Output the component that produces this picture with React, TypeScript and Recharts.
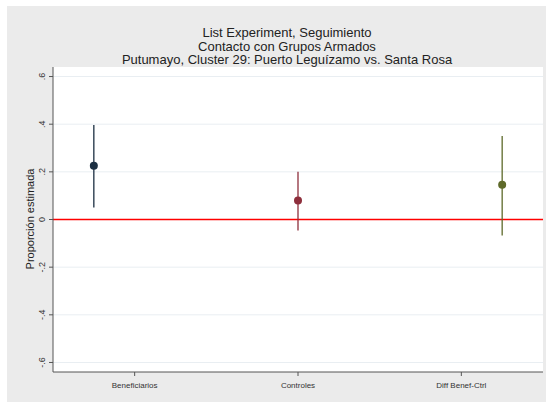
import React from 'react';
import {
  ComposedChart,
  Scatter,
  ErrorBar,
  XAxis,
  YAxis,
  CartesianGrid,
  ReferenceLine,
} from 'recharts';

const categories = ['Beneficiarios', 'Controles', 'Diff Benef-Ctrl'];
const positions = [1, 2, 3];
const tickPositions = [1.2, 2, 2.8];
const estimates = [0.226, 0.08, 0.146];
const lower = [0.05, -0.046, -0.067];
const upper = [0.397, 0.2, 0.35];
const yTicks = [-0.6, -0.4, -0.2, 0, 0.2, 0.4, 0.6];
const colors = ['#1c2f42', '#8e2f3c', '#5e6a2a'];

const fmtY = (v: number) => {
  if (v === 0) return '0';
  const s = Math.abs(v).toFixed(1).replace(/^0/, '');
  return v < 0 ? '-' + s : s;
};

const YTick = ({ x, y, payload }: any) => (
  <text
    x={x - 2}
    y={y}
    transform={`rotate(-90, ${x - 2}, ${y})`}
    textAnchor="middle"
    fontSize={9}
    fill="#333"
    fontFamily="Liberation Sans, Arial, sans-serif"
  >
    {fmtY(payload.value)}
  </text>
);

const XTick = ({ x, y, payload }: any) => {
  const i = tickPositions.indexOf(payload.value);
  return (
    <text
      x={x}
      y={y + 10}
      textAnchor="middle"
      fontSize={8}
      fill="#333"
      fontFamily="Liberation Sans, Arial, sans-serif"
    >
      {categories[i]}
    </text>
  );
};

const Dot = (color: string) => (props: any) => (
  <circle cx={props.cx} cy={props.cy} r={4} fill={color} />
);

export default function App() {
  const series = categories.map((c, i) => ({
    name: c,
    data: [
      {
        x: positions[i],
        y: estimates[i],
        err: [estimates[i] - lower[i], upper[i] - estimates[i]],
      },
    ],
  }));

  return (
    <div
      style={{
        position: 'absolute',
        left: 0,
        top: 0,
        width: 546,
        height: 402,
        background: '#ffffff',
        fontFamily: 'Liberation Sans, Arial, sans-serif',
      }}
    >
      {/* gray graph region, with a thin white margin top/left */}
      <div
        style={{
          position: 'absolute',
          left: 7,
          top: 6,
          right: 0,
          bottom: 0,
          background: '#ebebeb',
        }}
      />
      <div
        style={{
          position: 'absolute',
          left: 0,
          top: 26,
          width: 574,
          textAlign: 'center',
          fontSize: 13,
          lineHeight: '13.5px',
          color: '#222',
        }}
      >
        <div>List Experiment, Seguimiento</div>
        <div>Contacto con Grupos Armados</div>
        <div>Putumayo, Cluster 29: Puerto Leguízamo vs. Santa Rosa</div>
      </div>
      <div
        style={{
          position: 'absolute',
          left: 30,
          top: 219,
          transform: 'translate(-50%, -50%) rotate(-90deg)',
          fontSize: 11,
          color: '#222',
          whiteSpace: 'nowrap',
        }}
      >
        Proporción estimada
      </div>
      <ComposedChart
        width={546}
        height={402}
        margin={{ top: 67, right: 3, bottom: 0, left: 0 }}
        style={{ position: 'absolute', left: 0, top: 0 }}
      >
        <CartesianGrid
          vertical={false}
          fill="#ffffff"
          stroke="#e9eef2"
          horizontalValues={yTicks}
        />
        <XAxis
          type="number"
          dataKey="x"
          domain={[0.8, 3.2]}
          ticks={tickPositions}
          tick={<XTick />}
          height={30}
          stroke="#555"
          tickLine={{ stroke: '#555' }}
          tickSize={4}
          allowDataOverflow
        />
        <YAxis
          type="number"
          dataKey="y"
          domain={[-0.64, 0.64]}
          ticks={yTicks}
          tick={<YTick />}
          width={53}
          stroke="#555"
          tickSize={4}
          allowDataOverflow
        />
        <ReferenceLine y={0} stroke="#ff0000" strokeWidth={1.5} />
        {series.map((s, i) => (
          <Scatter
            key={s.name}
            name={s.name}
            data={s.data}
            fill={colors[i]}
            shape={Dot(colors[i])}
            isAnimationActive={false}
          >
            <ErrorBar
              dataKey="err"
              direction="y"
              width={0}
              stroke={colors[i]}
              strokeWidth={1.3}
              isAnimationActive={false}
            />
          </Scatter>
        ))}
      </ComposedChart>
    </div>
  );
}
